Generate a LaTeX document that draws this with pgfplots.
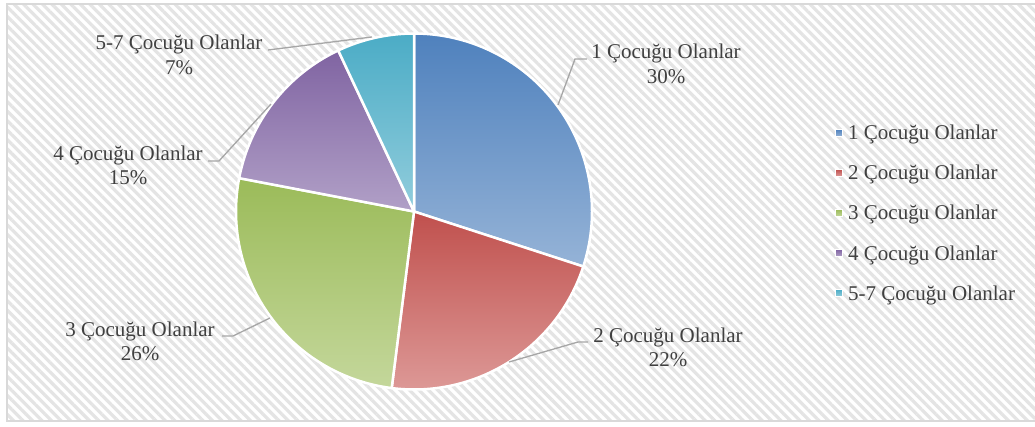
\documentclass[border=0pt]{standalone}
\usepackage{fontspec}
\setmainfont{Liberation Serif}
\usepackage{pgfplots}
\usepackage{pgfplotstable}
\pgfplotsset{compat=1.18}
\usetikzlibrary{patterns.meta}
\definecolor{c0t}{HTML}{4F81BD}\definecolor{c0b}{HTML}{95B3D7}
\definecolor{c1t}{HTML}{C0504D}\definecolor{c1b}{HTML}{DE9C9A}
\definecolor{c2t}{HTML}{9BBB59}\definecolor{c2b}{HTML}{C4D79B}
\definecolor{c3t}{HTML}{8064A2}\definecolor{c3b}{HTML}{B1A0C7}
\definecolor{c4t}{HTML}{4BACC6}\definecolor{c4b}{HTML}{92CDDC}
\definecolor{txt}{HTML}{404040}
\definecolor{lead}{HTML}{A6A6A6}
\definecolor{stripe}{HTML}{E4E4E4}
\definecolor{frame}{HTML}{D9D9D9}
\tikzset{lbl/.style={font=\fontsize{21}{24}\selectfont,text=txt,inner sep=0pt}}

\pgfplotstableread[col sep=comma]{
label,value
1 Çocuğu Olanlar,30
2 Çocuğu Olanlar,22
3 Çocuğu Olanlar,26
4 Çocuğu Olanlar,15
5-7 Çocuğu Olanlar,7
}\piedata

\begin{document}
\begin{tikzpicture}
\def\cumval{0}
\pgfplotsforeachungrouped \i in {0,...,4}{%
  \pgfplotstablegetelem{\i}{value}\of\piedata
  \let\myval\pgfplotsretval
  \pgfplotstablegetelem{\i}{label}\of\piedata
  \expandafter\global\expandafter\let\csname pl\i\endcsname\pgfplotsretval
  \expandafter\xdef\csname pv\i\endcsname{\myval}%
  \pgfmathsetmacro\sa{90-3.6*\cumval}%
  \pgfmathsetmacro\cumval{\cumval+\myval}%
  \pgfmathsetmacro\ea{90-3.6*\cumval}%
  \expandafter\xdef\csname ps\i\endcsname{\sa}%
  \expandafter\xdef\csname pe\i\endcsname{\ea}%
}
\begin{axis}[name=ax,at={(0,0)},anchor=south west,x=1pt,y=1pt,xmin=0,xmax=1035,ymin=0,ymax=426,hide axis,clip=false]
% background
\fill[white] (axis cs:0,0) rectangle (axis cs:1035,426);
\fill[pattern={Lines[angle=-45,distance=6.7pt,line width=3.2pt]},pattern color=stripe]
  (axis cs:7,5) rectangle (axis cs:1035,422);
\draw[frame,line width=2pt] (axis cs:1035,422) -- (axis cs:7,422) -- (axis cs:7,5) -- (axis cs:1035,5);
% slices
\pgfplotsinvokeforeach{0,...,4}{
  \path[draw=white,line width=2.5pt,line join=round,top color=c#1t,bottom color=c#1b]
    (axis cs:414,214.5) -- (axis cs:{414+178*cos(\csname ps#1\endcsname)},{214.5+178*sin(\csname ps#1\endcsname)})
    arc[start angle=\csname ps#1\endcsname,end angle=\csname pe#1\endcsname,radius=178pt] -- cycle;
}
% leader lines
\draw[lead,line width=1.3pt] (axis cs:558,321) -- (axis cs:575,367) -- (axis cs:587,367);
\draw[lead,line width=1.3pt] (axis cs:509,64) -- (axis cs:578,84) -- (axis cs:588,84);
\draw[lead,line width=1.3pt] (axis cs:270,108) -- (axis cs:233,90) -- (axis cs:222,90);
\draw[lead,line width=1.3pt] (axis cs:271,322) -- (axis cs:219,265) -- (axis cs:208,265);
\draw[lead,line width=1.3pt] (axis cs:372,389) -- (axis cs:268,376);
% data labels
\node[lbl,anchor=base] at (axis cs:666,367) {\csname pl0\endcsname};
\node[lbl,anchor=base] at (axis cs:666,342.5) {\csname pv0\endcsname\%};
\node[lbl,anchor=base] at (axis cs:668,84) {\csname pl1\endcsname};
\node[lbl,anchor=base] at (axis cs:668,59.5) {\csname pv1\endcsname\%};
\node[lbl,anchor=base] at (axis cs:140,90) {\csname pl2\endcsname};
\node[lbl,anchor=base] at (axis cs:140,65.5) {\csname pv2\endcsname\%};
\node[lbl,anchor=base] at (axis cs:128,265.3) {\csname pl3\endcsname};
\node[lbl,anchor=base] at (axis cs:128,241) {\csname pv3\endcsname\%};
\node[lbl,anchor=base] at (axis cs:179,376) {\csname pl4\endcsname};
\node[lbl,anchor=base] at (axis cs:179,351.5) {\csname pv4\endcsname\%};
% legend
\pgfplotsinvokeforeach{0,...,4}{
  \path[top color=c#1t,bottom color=c#1b,draw=white,line width=0.6pt]
    (axis cs:835,{293-40*#1-3.5}) rectangle (axis cs:842,{293-40*#1+3.5});
  \node[lbl,anchor=base west] at (axis cs:848,{286-40*#1}) {\csname pl#1\endcsname};
}
\end{axis}
\pgfresetboundingbox
\path[use as bounding box] (ax.south west) rectangle (ax.north east);
\end{tikzpicture}
\end{document}
